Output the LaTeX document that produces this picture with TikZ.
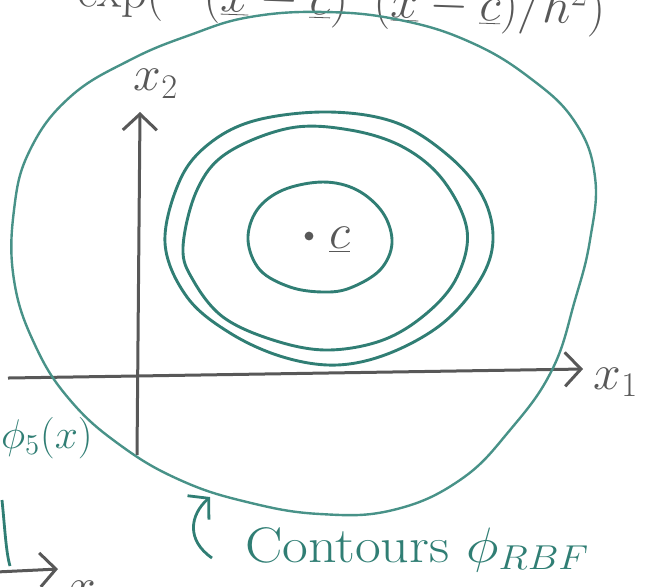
\documentclass[tikz,border=0pt]{standalone}
\usepackage{tikz}
\usetikzlibrary{arrows.meta}
\definecolor{pen}{RGB}{48,126,116}
\definecolor{penlight}{RGB}{72,146,136}
\definecolor{lead}{RGB}{88,88,88}

\begin{document}
\begin{tikzpicture}[x=0.5pt,y=-0.5pt,
  contour/.style={draw=pen,line width=1.45pt,line join=round},
  axis/.style={draw=lead,line width=1.5pt,-{Straight Barb[length=8pt,width=17pt]}},
  lbl/.style={font=\fontsize{24}{28}\selectfont}]
  \useasboundingbox (0,0) rectangle (651,586);
  \clip (0,0) rectangle (651,586);
  % formula, mostly cut off at the top
  \node[lead,anchor=base west,rotate=-2,font=\fontsize{26}{30}\selectfont] (kernel) at (70,6)
    {$\exp\Bigl(-(\underline{x}-\underline{c})^{T}(\underline{x}-\underline{c})/h^{2}\Bigr)$};
  % axes
  \coordinate (O1) at (8,378);
  \coordinate (E1) at (583,369);
  \coordinate (O2) at (137,455);
  \coordinate (E2) at (140,112);
  \draw[axis] (O1) -- (E1);
  \draw[axis] (O2) -- (E2);
  \node[lead,lbl] (xone) at (616,382) {$x_1$};
  \node[lead,lbl] (xtwo) at (156,84) {$x_2$};
  % outer contour
  \draw[draw=penlight,line width=1.2pt] plot[smooth cycle,tension=0.7] coordinates {
    (250,17) (325,12) (400,20) (470,42) (530,78) (575,122) (595,177)
    (590,240) (575,300) (552,370) (510,430) (460,480) (393,510) (320,514)
    (247,502) (180,480) (120,445) (70,400) (35,345) (14,280) (14,210)
    (30,150) (70,97) (130,60) (190,35)};
  % inner contours
  \draw[contour] plot[smooth cycle,tension=0.6] coordinates {
    (165,243) (180,180) (210,143) (257,120) (330,112) (397,123) (450,157)
    (483,197) (493,240) (480,280) (443,323) (390,353) (337,365) (283,357)
    (230,333) (187,297)};
  \draw[contour] plot[smooth cycle,tension=0.6] coordinates {
    (183,247) (197,190) (227,153) (290,128) (350,130) (403,147) (443,180)
    (467,230) (457,277) (427,313) (383,340) (327,350) (273,340) (223,317)
    (193,280)};
  \draw[contour] plot[smooth cycle,tension=0.6] coordinates {
    (248,240) (257,210) (283,190) (323,182) (357,190) (383,213) (392,243)
    (380,270) (350,288) (323,292) (290,287) (260,270)};
  % centre
  \coordinate (c) at (309,236);
  \fill[lead] (c) circle (2.2pt);
  \node[lead,lbl,anchor=west] (cname) at (322,240) {$\underline{c}$};
  % annotation
  \node[pen,anchor=base west,font=\fontsize{25}{30}\selectfont] (contours) at (238,562)
    {\scalebox{1.12}[1]{Contours $\phi_{RBF}$}};
  \coordinate (ann) at (212,558);
  \coordinate (tip) at (210,497);
  \draw[pen,line width=1.4pt,-{Straight Barb[length=7pt,width=16pt]}]
    (ann) .. controls (186,540) and (190,515) .. (tip);
  % neighbouring sketch, cut off at the left
  \node[pen,anchor=west,font=\fontsize{21}{25}\selectfont] (phifive) at (-6,438) {$\phi_5(x)$};
  \draw[pen,line width=1.4pt] (2,500) .. controls (5,530) and (6,552) .. (10,566);
  \coordinate (O3) at (-4,572);
  \coordinate (E3) at (58,569);
  \draw[axis] (O3) -- (E3);
  \node[lead,lbl] (xsmall) at (82,592) {$x$};
\end{tikzpicture}
\end{document}
